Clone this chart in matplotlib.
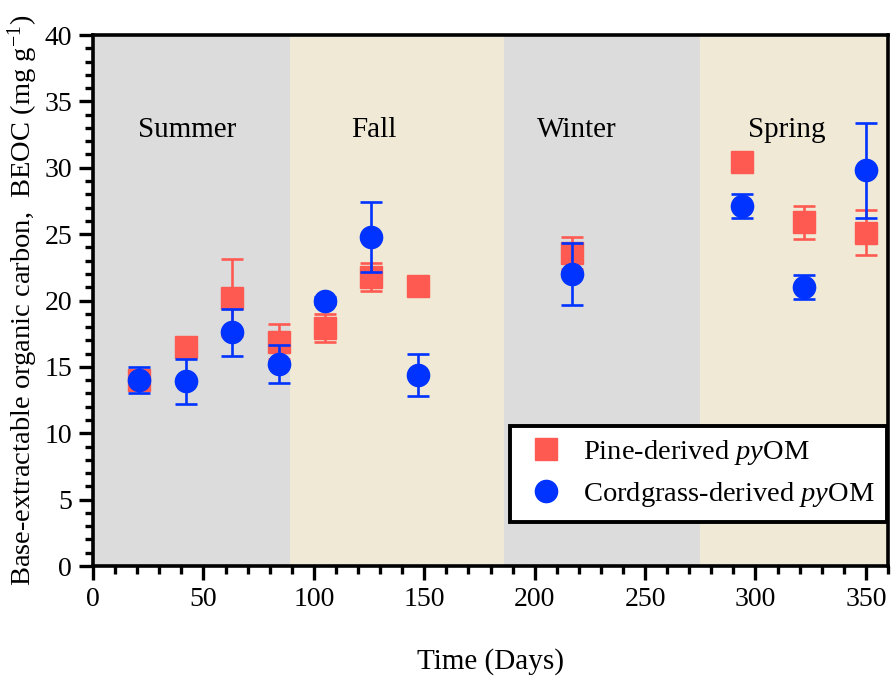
import matplotlib
matplotlib.use("Agg")
import matplotlib.pyplot as plt
from matplotlib.ticker import MultipleLocator
from matplotlib.lines import Line2D

plt.rcParams['font.family'] = ['Liberation Serif', 'DejaVu Serif']
plt.rcParams['mathtext.fontset'] = 'custom'
plt.rcParams['mathtext.rm'] = 'Liberation Serif'
plt.rcParams['mathtext.it'] = 'Liberation Serif:italic'

# Sampling days
days = [21, 42, 63, 84, 105, 126, 147, 217, 294, 322, 350]

# Pine-derived pyOM
pine_mean = [14.0, 16.5, 20.2, 16.9, 17.9, 21.8, 21.1, 23.6, 30.4, 25.9, 25.1]
pine_err = [0.5, 0.3, 2.9, 1.3, 1.05, 1.05, 0.3, 1.2, 0.3, 1.25, 1.7]

# Cordgrass-derived pyOM
cord_mean = [14.0, 13.9, 17.6, 15.2, 20.0, 24.8, 14.4, 22.0, 27.1, 21.0, 29.8]
cord_err = [1.0, 1.7, 1.75, 1.45, 0.3, 2.65, 1.6, 2.35, 0.9, 0.9, 3.6]

# Seasons: name, start day, end day, label centre day
seasons = ["Summer", "Fall", "Winter", "Spring"]
season_start = [0, 89, 186, 275]
season_end = [89, 186, 275, 360]
season_label_x = [42.5, 127, 219, 314]
season_colors = ["#dcdcdc", "#f0e9d5", "#dcdcdc", "#f0e9d5"]

series_labels = [r'Pine-derived $\mathit{py}$OM', r'Cordgrass-derived $\mathit{py}$OM']

red = "#ff5a52"
blue = "#0033ff"

fig = plt.figure(figsize=(8.92, 6.76), dpi=100)
ax = fig.add_axes([0.1043, 0.1627, 0.8912, 0.7855])

for name, s, e, lx, c in zip(seasons, season_start, season_end, season_label_x, season_colors):
    ax.axvspan(s, e, color=c, lw=0, zorder=0)
    ax.text(lx, 32.85, name, ha='center', va='center', fontsize=21, zorder=3)

ax.errorbar(days, pine_mean, yerr=pine_err, fmt='s', color=red, ecolor=red,
            markersize=16, elinewidth=1.9, capsize=8, capthick=1.9, zorder=4)
ax.errorbar(days, cord_mean, yerr=cord_err, fmt='o', color=blue, ecolor=blue,
            markersize=16, elinewidth=1.9, capsize=8, capthick=1.9, zorder=5)

ax.set_xlim(0, 360)
ax.set_ylim(0, 40)
ax.xaxis.set_major_locator(MultipleLocator(50))
ax.xaxis.set_minor_locator(MultipleLocator(10))
ax.yaxis.set_major_locator(MultipleLocator(5))
ax.yaxis.set_minor_locator(MultipleLocator(1))
ax.tick_params(which='major', length=10, width=2.4, labelsize=20, direction='out', pad=5)
ax.tick_params(which='minor', length=6, width=2.4, direction='out')

for sp in ax.spines.values():
    sp.set_linewidth(2.6)
    sp.set_zorder(6)

ax.set_xlabel('Time (Days)', fontsize=21, labelpad=26)
ax.set_ylabel(r'Base-extractable organic carbon,  BEOC (mg g$^{-1}$)', fontsize=20.5, labelpad=3)

handles = [Line2D([], [], ls='none', marker='s', color=red, markersize=16),
           Line2D([], [], ls='none', marker='o', color=blue, markersize=16)]
leg = ax.legend(handles, series_labels, loc='lower right', bbox_to_anchor=(0.999, 0.083),
                borderaxespad=0, fontsize=20.5, frameon=True, fancybox=False,
                edgecolor='black', framealpha=1, handletextpad=0.5, borderpad=0.45,
                labelspacing=0.45, handlelength=1.6)
leg.get_frame().set_linewidth(2.8)
leg.set_zorder(7)

fig.savefig('out.png', dpi=100)
